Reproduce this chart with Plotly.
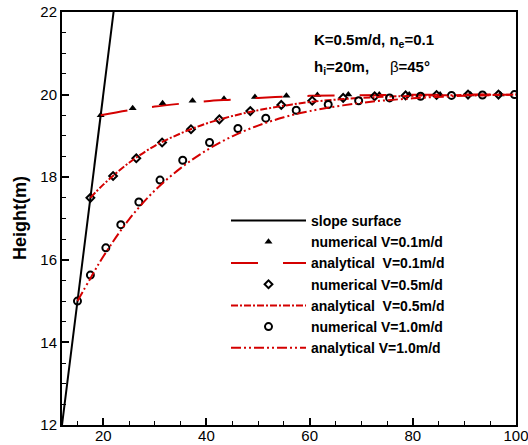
import plotly.graph_objects as go

# slope surface
slope_x = [12, 22]
slope_y = [12, 22]

# V = 0.1 m/d
num01_x = [19.5, 25.7, 31.5, 37.3, 43.4, 49.4, 55.5, 61.5, 67.5, 73.5, 79.3, 85.3, 91.2, 97.0]
num01_y = [19.5, 19.67, 19.79, 19.85, 19.90, 19.94, 19.97, 19.99, 20.0, 20.0, 20.0, 20.0, 20.0, 20.0]
ana01_x = [19.5, 25, 30, 35, 40, 45, 50, 55, 60, 70, 80, 90, 100]
ana01_y = [19.5, 19.62, 19.71, 19.78, 19.84, 19.88, 19.92, 19.95, 19.97, 19.985, 19.995, 20.0, 20.0]

# V = 0.5 m/d
num05_x = [17.5, 21.9, 26.4, 31.4, 37.0, 42.5, 48.5, 54.5, 60.5, 66.5, 72.6, 78.6, 84.6, 90.7, 96.6]
num05_y = [17.5, 18.03, 18.46, 18.84, 19.16, 19.40, 19.60, 19.75, 19.85, 19.92, 19.96, 19.98, 19.99, 20.0, 20.0]
ana05_x = [17.5, 20, 25, 30, 35, 40, 45, 50, 55, 60, 70, 80, 90, 100]
ana05_y = [17.5, 17.82, 18.35, 18.76, 19.06, 19.30, 19.48, 19.62, 19.73, 19.82, 19.92, 19.97, 19.99, 20.0]

# V = 1.0 m/d
num10_x = [15.0, 17.5, 20.5, 23.4, 26.9, 31.0, 35.4, 40.6, 46.1, 51.5, 57.4, 63.6, 69.5, 75.5, 81.5, 87.5, 93.5, 99.7]
num10_y = [15.0, 15.63, 16.29, 16.85, 17.40, 17.93, 18.41, 18.84, 19.18, 19.43, 19.62, 19.76, 19.85, 19.92, 19.96, 19.98, 19.99, 20.0]
ana10_x = [15.0, 17.5, 20, 25, 30, 35, 40, 45, 50, 55, 60, 70, 80, 90, 100]
ana10_y = [15.0, 15.55, 16.08, 16.98, 17.68, 18.22, 18.65, 18.99, 19.25, 19.45, 19.60, 19.80, 19.91, 19.97, 20.0]

RED = "#d40000"
FONT = "Arial, Liberation Sans, sans-serif"

fig = go.Figure()
fig.add_trace(go.Scatter(x=slope_x, y=slope_y, mode="lines", name="slope surface",
                         line=dict(color="black", width=2)))
fig.add_trace(go.Scatter(x=num01_x, y=num01_y, mode="markers", name="numerical V=0.1m/d",
                         marker=dict(symbol="triangle-up", size=7, color="black")))
fig.add_trace(go.Scatter(x=ana01_x, y=ana01_y, mode="lines", name="analytical  V=0.1m/d",
                         line=dict(color=RED, width=2, dash="27px,25px", shape="spline")))
fig.add_trace(go.Scatter(x=num05_x, y=num05_y, mode="markers", name="numerical V=0.5m/d",
                         marker=dict(symbol="diamond-open", size=6, color="black", line=dict(width=2))))
fig.add_trace(go.Scatter(x=ana05_x, y=ana05_y, mode="lines", name="analytical  V=0.5m/d",
                         line=dict(color=RED, width=2, dash="7px,2px,2px,2px", shape="spline")))
fig.add_trace(go.Scatter(x=num10_x, y=num10_y, mode="markers", name="numerical V=1.0m/d",
                         marker=dict(symbol="circle-open", size=7, color="black", line=dict(width=2))))
fig.add_trace(go.Scatter(x=ana10_x, y=ana10_y, mode="lines", name="analytical V=1.0m/d",
                         line=dict(color=RED, width=2, dash="10px,3px,2px,3px,2px,3px", shape="spline")))

axis_common = dict(showline=True, linecolor="black", linewidth=2, mirror=True,
                   ticks="inside", ticklen=7, tickwidth=1.5, tickcolor="black",
                   showgrid=False, zeroline=False, automargin=False,
                   ticklabeloverflow="allow",
                   tickfont=dict(family=FONT, size=15, color="black"))

fig.update_xaxes(range=[12, 100], tickvals=[20, 40, 60, 80, 100],
                 minor=dict(tickvals=[15, 25, 30, 35, 45, 50, 55, 65, 70, 75, 85, 90, 95],
                            ticks="inside", ticklen=4, tickwidth=1, tickcolor="black"),
                 ticklabelstandoff=-4,
                 **axis_common)
fig.update_yaxes(range=[12, 22], dtick=2, tick0=12,
                 minor=dict(dtick=0.5, ticks="inside", ticklen=4, tickwidth=1, tickcolor="black"),
                 **axis_common)

fig.add_annotation(x=(20 - 62) / 454, y=1 - (218 - 12) / 413, xref="paper", yref="paper",
                   xanchor="center", yanchor="middle", showarrow=False, textangle=-90,
                   text="<b>Height(m)</b>", font=dict(family=FONT, size=18, color="black"))
fig.add_annotation(x=(312 - 62) / 454, y=1 - (41 - 12) / 413, xref="paper", yref="paper",
                   xanchor="left", yanchor="middle", showarrow=False,
                   text="<b>K=0.5m/d, n<sub>e</sub>=0.1</b>",
                   font=dict(family=FONT, size=15, color="black"))
fig.add_annotation(x=(312 - 62) / 454, y=1 - (67 - 12) / 413, xref="paper", yref="paper",
                   xanchor="left", yanchor="middle", showarrow=False,
                   text="<b>h<sub>i</sub>=20m,</b>     β<b>=45°</b>",
                   font=dict(family=FONT, size=15, color="black"))

fig.update_layout(
    width=528, height=445,
    margin=dict(l=62, r=12, t=12, b=20),
    plot_bgcolor="white", paper_bgcolor="white",
    showlegend=True,
    legend=dict(x=(226 - 62) / 454, y=1 - (205 - 12) / 413, xanchor="left", yanchor="top",
                bgcolor="rgba(0,0,0,0)", itemwidth=75, tracegroupgap=0,
                font=dict(family=FONT, size=14, color="black")),
    font=dict(family=FONT, color="black"),
)
fig.for_each_trace(lambda t: t.update(name="<b>" + t.name + "</b>"))

fig.write_html("out.html")
